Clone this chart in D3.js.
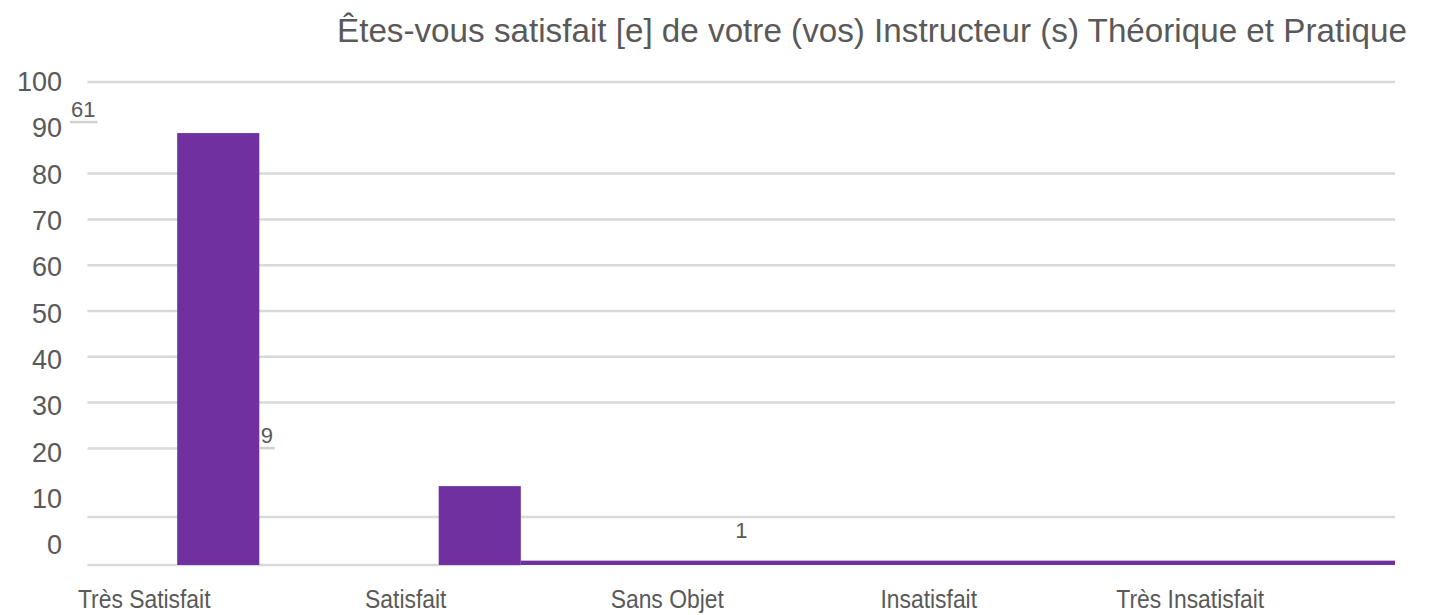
<!DOCTYPE html>
<html>
<head>
<meta charset="utf-8">
<script src="https://cdn.jsdelivr.net/npm/d3@7"></script>
<style>
  body { margin: 0; background: #fff; }
  svg text { font-family: "Liberation Sans", Arial, sans-serif; fill: #595959; }
</style>
</head>
<body>
<div id="chart"></div>
<script>
// values
var categories = ["Très Satisfait", "Satisfait", "Sans Objet", "Insatisfait", "Très Insatisfait"];
var counts = [61, 9, 1, 0, 0];
var barValues = [89.8, 16.4, 0.7, 0.7, 0.7];   // bar tops, in axis units
var tickValues = [0, 10, 20, 30, 40, 50, 60, 70, 80, 90, 100];
var gridValues = [100, 80, 70, 60, 50, 40, 30];
var title = "Êtes-vous satisfait [e] de votre (vos) Instructeur (s) Théorique et Pratique";

var width = 1438, height = 615;
var left = 87.5, right = 1395;

var svg = d3.select("#chart").append("svg")
  .attr("width", width)
  .attr("height", height);

var x = d3.scaleBand().domain(categories).range([left, right]).padding(0);
var yLab = d3.scaleLinear().domain([0, 100]).range([545, 82]);   // tick labels
var yGrid = d3.scaleLinear().domain([0, 100]).range([540, 82]);  // upper gridlines
var yBar = d3.scaleLinear().domain([0, 100]).range([565, 84]);   // bars + lower lines

var bw = x.bandwidth(), barW = bw * 0.314;
function barX(c) { return x(c) + (bw - barW) / 2; }

// gridlines
svg.append("g").selectAll("line")
  .data(gridValues)
  .enter().append("line")
  .attr("x1", left).attr("x2", right)
  .attr("y1", function (d) { return yGrid(d); })
  .attr("y2", function (d) { return yGrid(d); })
  .attr("stroke", "#d9d9d9")
  .attr("stroke-width", 2.5);

// short 20 line, stops at the first bar
svg.append("line")
  .attr("x1", left).attr("x2", barX(categories[0]))
  .attr("y1", yGrid(20)).attr("y2", yGrid(20))
  .attr("stroke", "#d9d9d9").attr("stroke-width", 2.5);

svg.append("line")
  .attr("x1", left).attr("x2", right)
  .attr("y1", yBar(10)).attr("y2", yBar(10))
  .attr("stroke", "#d9d9d9").attr("stroke-width", 2.5);

var bar2End = barX(categories[1]) + barW;
svg.append("line")
  .attr("x1", left).attr("x2", bar2End)
  .attr("y1", yBar(0)).attr("y2", yBar(0))
  .attr("stroke", "#d9d9d9").attr("stroke-width", 2.5);

// bars
svg.append("g").selectAll("rect")
  .data(categories.slice(0, 2))
  .enter().append("rect")
  .attr("x", function (d) { return barX(d); })
  .attr("y", function (d, i) { return yBar(barValues[i]); })
  .attr("width", barW)
  .attr("height", function (d, i) { return yBar(0) - yBar(barValues[i]); })
  .attr("fill", "#7030a0");

// the small values end up as one purple strip along the base
svg.append("rect")
  .attr("x", bar2End)
  .attr("y", yBar(barValues[2]) - 1)
  .attr("width", right - bar2End)
  .attr("height", yBar(0) - yBar(barValues[2]) + 1)
  .attr("fill", "#7030a0");

// y axis labels
var yAxis = svg.append("g")
  .attr("transform", "translate(62,0)")
  .call(d3.axisLeft(yLab).tickValues(tickValues).tickSize(0).tickPadding(0));
yAxis.select(".domain").remove();
yAxis.selectAll("text")
  .style("font-size", "27px")
  .attr("fill", "#595959");

// category labels
svg.append("g").selectAll("text")
  .data(categories)
  .enter().append("text")
  .attr("transform", function (d) {
    return "translate(" + (x(d) + bw / 2 - 74) + ",608) scale(0.88,1)";
  })
  .attr("text-anchor", "middle")
  .style("font-size", "26px")
  .text(function (d) { return d; });

// data labels (placed where the picture has them)
var labelShift = [[-135, -16], [-213, -43], [0, -24]];
var labels = svg.append("g").selectAll("text")
  .data(counts.filter(function (d) { return d > 0; }))
  .enter().append("text")
  .attr("x", function (d, i) { return x(categories[i]) + bw / 2 + labelShift[i][0]; })
  .attr("y", function (d, i) { return yBar(barValues[i]) + labelShift[i][1]; })
  .attr("text-anchor", "middle")
  .style("font-size", "22px")
  .text(function (d) { return d; });

labels.each(function (d, i) {
  if (i > 1) return;
  var b = this.getBBox();
  svg.append("line")
    .attr("x1", b.x - 1).attr("x2", b.x + b.width + 2)
    .attr("y1", b.y + b.height).attr("y2", b.y + b.height)
    .attr("stroke", "#d0d0d0").attr("stroke-width", 2.5);
});

// title
svg.append("text")
  .attr("x", 337)
  .attr("y", 42)
  .attr("textLength", 1070)
  .attr("lengthAdjust", "spacingAndGlyphs")
  .style("font-size", "33px")
  .text(title);
</script>
</body>
</html>
